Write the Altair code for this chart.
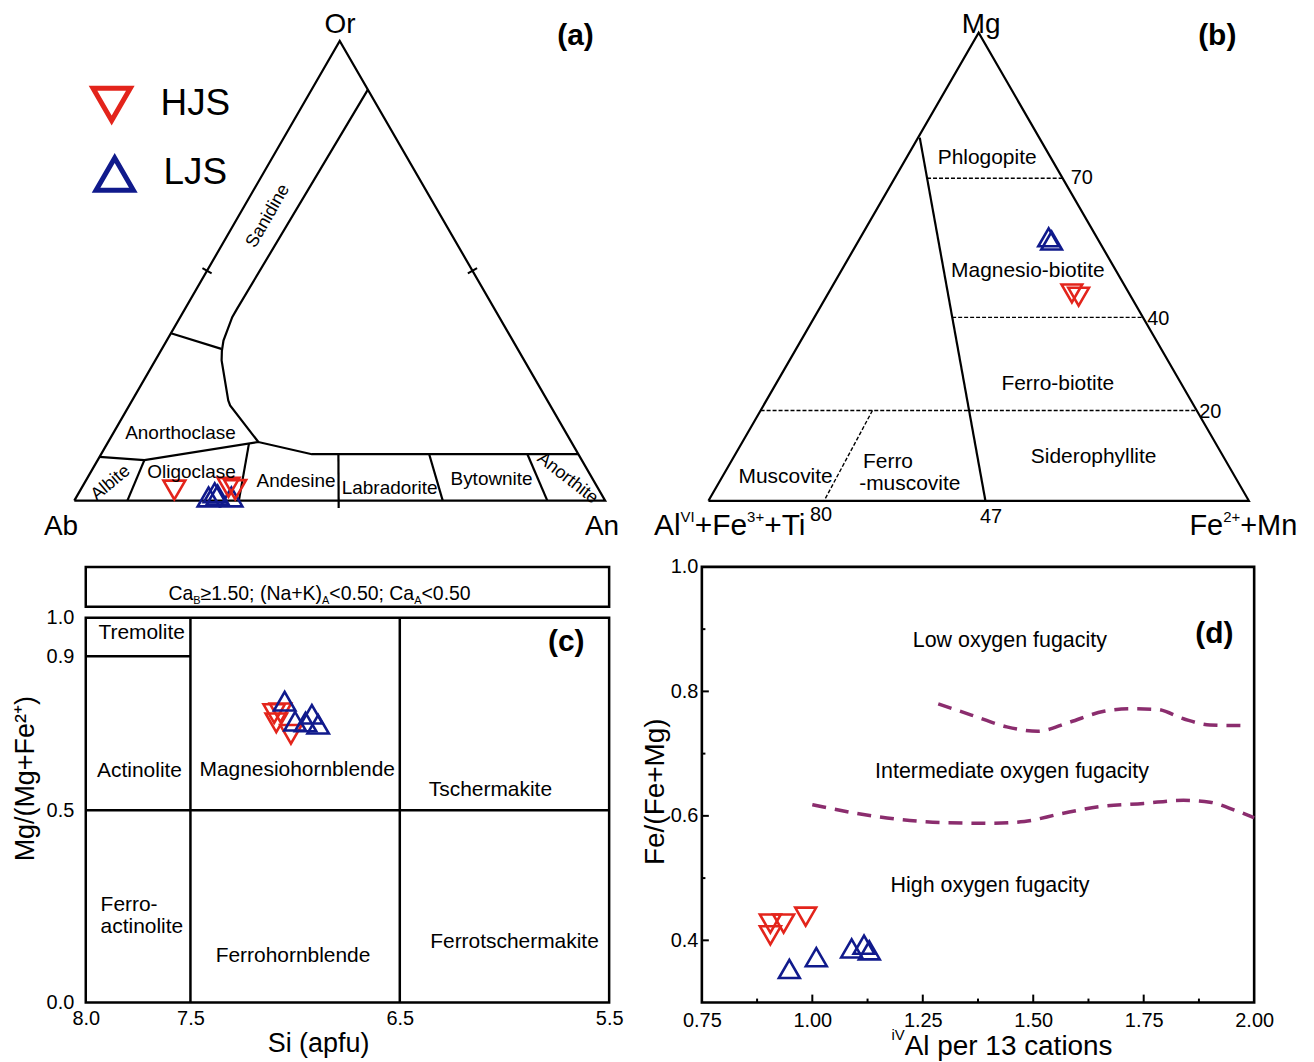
import altair as alt
import numpy as np
import pandas as pd

FONT = "Liberation Sans"
RED = "#E3241B"
BLUE = "#101A8C"
PURPLE = "#8B2D6E"
K = np.sqrt(3) / 2

# ---------------- data ----------------
series = ["HJS", "LJS"]

# (a) feldspar ternary, compositions (An %, Or %); Ab = remainder
a_hjs_an = [17.7, 27.6, 29.1]
a_hjs_or = [2.3, 2.9, 2.4]
a_ljs_an = [24.9, 25.6, 26.4, 29.2]
a_ljs_or = [0.8, 1.7, 1.2, 0.8]
a_outline = [(0, 0), (100, 0), (0, 100), (0, 0)]
a_fields = [
    [(10.6, 89.4), (9.8, 41.7), (9.8, 39.9), (10.3, 37.0), (10.7, 34.8), (11.5, 32.6),
     (12.5, 30.5), (18.1, 21.8), (19.0, 20.7), (28.3, 12.75)],
    [(0, 36.4), (11.2, 33.0)],
    [(0, 9.5), (8.8, 8.8), (28.3, 12.75), (39.7, 10.1), (89.9, 10.1)],
    [(8.8, 8.8), (10.0, 0)],
    [(26.7, 12.4), (31.0, 0)],
    [(44.7, 10.1), (50.6, -1.6)],
    [(61.8, 10.1), (69.4, 0)],
    [(80.3, 10.1), (89.1, 0)],
]
a_ticks = [(0, 50), (50, 50)]

# (b) biotite ternary, compositions (Fe2+ + Mn %, Mg %)
b_hjs_fe = [45.1, 46.7]
b_hjs_mg = [44.3, 43.6]
b_ljs_fe = [34.8, 35.7]
b_ljs_mg = [56.3, 55.6]
b_outline = [(0, 0), (100, 0), (0, 100), (0, 0)]
b_solid = [[(0.3, 77.6), (51.25, 0)]]
b_dashed = [[(6.0, 68.9), (31.1, 68.9)], [(25.5, 39.2), (60.8, 39.2)],
            [(0, 19.3), (80.7, 19.3)], [(20.7, 19.3), (21.4, 0)]]

# (c) amphibole classification
c_hjs_si = [7.10, 7.07, 7.09, 7.02]
c_hjs_mg = [0.751, 0.753, 0.727, 0.697]
c_ljs_si = [7.05, 7.00, 6.95, 6.92, 6.89]
c_ljs_mg = [0.783, 0.731, 0.729, 0.749, 0.723]
c_x_ticks = [8.0, 7.5, 6.5, 5.5]
c_y_ticks = [0.0, 0.5, 0.9, 1.0]
c_bounds = [  # x, x2, y, y2
    (7.5, 7.5, 0.0, 1.0), (6.5, 6.5, 0.0, 1.0), (8.0, 5.5, 0.5, 0.5), (8.0, 7.5, 0.9, 0.9)]

# (d) oxygen fugacity
d_hjs_al = [0.905, 0.935, 0.985, 0.905]
d_hjs_fe = [0.427, 0.427, 0.438, 0.408]
d_ljs_al = [0.948, 1.009, 1.089, 1.117, 1.129]
d_ljs_fe = [0.354, 0.373, 0.387, 0.393, 0.384]
d_upper_al = [1.285, 1.36, 1.44, 1.51, 1.58, 1.66, 1.72, 1.78, 1.84, 1.90, 1.98]
d_upper_fe = [0.780, 0.762, 0.743, 0.736, 0.750, 0.768, 0.772, 0.771, 0.756, 0.746, 0.745]
d_lower_al = [1.0, 1.1, 1.2, 1.3, 1.4, 1.48, 1.56, 1.65, 1.75, 1.84, 1.9, 1.96, 2.0]
d_lower_fe = [0.618, 0.604, 0.594, 0.589, 0.588, 0.591, 0.603, 0.615, 0.620, 0.625, 0.622, 0.608, 0.597]
d_x_ticks = [0.75, 1.0, 1.25, 1.5, 1.75, 2.0]
d_x_minor = [0.875, 1.125, 1.375, 1.625, 1.875]
d_y_ticks = [0.4, 0.6, 0.8, 1.0]
d_y_minor = [0.5, 0.7, 0.9]

# ---------------- helpers ----------------
ARIAL = {"A": .667, "B": .667, "C": .722, "F": .611, "I": .278, "K": .667, "M": .833,
         "N": .722, "T": .611, "V": .667, "a": .556, "e": .556, "i": .222, "l": .222,
         "n": .556, ".": .278, ";": .278, " ": .278, "(": .333, ")": .333, "+": .584,
         "<": .584, "\u2265": .549, "p": .556, "r": .333, "c": .5, "s": .5, "t": .278,
         "o": .556}


def tw(s, size):
    return sum(ARIAL.get(ch, .556) for ch in s) * size


def tern_paths(paths):
    rows = []
    for i, path in enumerate(paths):
        for j, (p, q) in enumerate(path):
            rows.append({"id": i, "o": j, "X": p + q / 2, "Y": q * K})
    return pd.DataFrame(rows)


def tern_pts(p, q, name):
    p, q = np.array(p), np.array(q)
    return pd.DataFrame({"X": p + q / 2, "Y": q * K, "s": name})


def tri(df, enc, shape, color, size, sw=2.6):
    return alt.Chart(df).mark_point(shape=shape, filled=False, size=size, strokeWidth=sw,
                                    color=color, opacity=1).encode(**enc)


def texts(rows, enc, fx, fy, **kw):
    df = pd.DataFrame(rows, columns=["t", fx, fy])
    return alt.Chart(df).mark_text(font=FONT, color="black", **kw).encode(**enc, text="t:N")


def segs(parts, x0, y0, enc, fx, fy):
    layers, off = [], 0.0
    for s, size, dy in parts:
        df = pd.DataFrame({"t": [s], fx: [x0], fy: [y0]})
        layers.append(alt.Chart(df).mark_text(font=FONT, color="black", fontSize=size,
                                              align="left", baseline="alphabetic",
                                              dx=off, dy=dy).encode(**enc, text="t:N"))
        off += tw(s, size)
    return layers


# ---------------- panel (a) ----------------
SAX = alt.Scale(domain=[2.16, 107.32], nice=False, zero=False)
SAY = alt.Scale(domain=[-11.17, 86.48], nice=False, zero=False)
ea = dict(x=alt.X("X:Q", scale=SAX, axis=None), y=alt.Y("Y:Q", scale=SAY, axis=None))

tick_rows = []
for i, ((p, q), ny) in enumerate(zip(a_ticks, [-0.5, 0.5])):
    X0, Y0 = p + q / 2, q * K
    tick_rows += [{"id": i, "o": 0, "X": X0 - K, "Y": Y0 - ny},
                  {"id": i, "o": 1, "X": X0 + K, "Y": Y0 + ny}]
a_tick_df = pd.DataFrame(tick_rows)

a_layers = [
    alt.Chart(tern_paths([a_outline])).mark_line(color="black", strokeWidth=2.2).encode(**ea, order="o:Q", detail="id:N"),
    alt.Chart(tern_paths(a_fields)).mark_line(color="black", strokeWidth=2.2).encode(**ea, order="o:Q", detail="id:N"),
    alt.Chart(a_tick_df).mark_line(color="black", strokeWidth=2).encode(**ea, order="o:Q", detail="id:N"),
    tri(tern_pts(a_ljs_an, a_ljs_or, series[1]), ea, "triangle-up", BLUE, 480),
    tri(tern_pts(a_hjs_an, a_hjs_or, series[0]), ea, "triangle-down", RED, 480),
    # legend
    tri(pd.DataFrame({"X": [7.04], "Y": [74.65]}), ea, "triangle-down", RED, 1400, 5),
    tri(pd.DataFrame({"X": [7.61], "Y": [61.5]}), ea, "triangle-up", BLUE, 1400, 5),
    texts([(series[0], 16.24, 74.65), (series[1], 16.8, 61.69)], ea, "X", "Y", fontSize=37, align="left"),
    texts([("Or", 50.05, 89.6), ("Ab", -2.5, -5.0), ("An", 99.4, -5.0)], ea, "X", "Y", fontSize=28),
    texts([("(a)", 94.4, 87.5)], ea, "X", "Y", fontSize=30, fontWeight="bold"),
    texts([("Anorthoclase", 20.0, 12.7), ("Oligoclase", 22.07, 5.35), ("Andesine", 41.78, 3.66),
           ("Labradorite", 59.4, 2.35), ("Bytownite", 78.6, 4.04)], ea, "X", "Y", fontSize=19),
    texts([("Sanidine", 36.5, 53.6)], ea, "X", "Y", fontSize=18, angle=300),
    texts([("Albite", 6.85, 3.3)], ea, "X", "Y", fontSize=18, angle=320),
    texts([("Anorthite", 92.9, 4.2)], ea, "X", "Y", fontSize=18, angle=38),
]
pa = alt.layer(*a_layers).properties(width=560, height=520)

# ---------------- panel (b) ----------------
SBX = alt.Scale(domain=[-1.22, 110.02], nice=False, zero=False)
SBY = alt.Scale(domain=[-10.94, 84.98], nice=False, zero=False)
eb = dict(x=alt.X("X:Q", scale=SBX, axis=None), y=alt.Y("Y:Q", scale=SBY, axis=None))

b_layers = [
    alt.Chart(tern_paths([b_outline])).mark_line(color="black", strokeWidth=2.2).encode(**eb, order="o:Q", detail="id:N"),
    alt.Chart(tern_paths(b_solid)).mark_line(color="black", strokeWidth=2.2).encode(**eb, order="o:Q", detail="id:N"),
    alt.Chart(tern_paths(b_dashed)).mark_line(color="black", strokeWidth=1.4, strokeDash=[4, 2]).encode(**eb, order="o:Q", detail="id:N"),
    tri(tern_pts(b_ljs_fe, b_ljs_mg, series[1]), eb, "triangle-up", BLUE, 430),
    tri(tern_pts(b_hjs_fe, b_hjs_mg, series[0]), eb, "triangle-down", RED, 430),
    texts([("Mg", 50.48, 86.65)], eb, "X", "Y", fontSize=28, baseline="alphabetic"),
    texts([("(b)", 94.15, 86.0)], eb, "X", "Y", fontSize=30, fontWeight="bold"),
    texts([("Phlogopite", 51.57, 63.4), ("Magnesio-biotite", 59.1, 42.56), ("Ferro-biotite", 64.64, 21.53),
           ("Siderophyllite", 71.28, 8.12), ("Muscovite", 14.28, 4.43)], eb, "X", "Y", fontSize=21),
    texts([("Ferro", 28.6, 7.25), ("-muscovite", 27.9, 3.08)], eb, "X", "Y", fontSize=21, align="left"),
    texts([("70", 67.03, 59.7), ("40", 81.2, 33.7), ("20", 90.8, 16.42)], eb, "X", "Y", fontSize=20, align="left"),
    texts([("80", 20.83, -2.64), ("47", 52.29, -2.95)], eb, "X", "Y", fontSize=20),
]
b_layers += segs([("Al", 30, 0), ("VI", 15, -13), ("+Fe", 30, 0), ("3+", 15, -13), ("+Ti", 30, 0)],
                 -10.07, -6.33, eb, "X", "Y")
b_layers += segs([("Fe", 29, 0), ("2+", 15, -13), ("+Mn", 29, 0)], 89.0, -6.33, eb, "X", "Y")
pb = alt.layer(*b_layers).properties(width=603, height=520)

# ---------------- panel (c) ----------------
SCX = alt.Scale(domain=[5.5, 8.0], reverse=True, nice=False, zero=False)
SCY = alt.Scale(domain=[0, 1.132], nice=False, zero=False)
axc_x = alt.Axis(values=c_x_ticks, format=".1f", ticks=False, domain=False, grid=False,
                 labelFontSize=20, labelFont=FONT, labelColor="black", labelPadding=6,
                 labelOverlap=False, labelFlush=False, title="Si (apfu)", titleFont=FONT,
                 titleFontSize=27, titleFontWeight="normal", titleColor="black",
                 titleX=233, titleY=41, titleAlign="center", titleBaseline="middle")
axc_y = alt.Axis(values=c_y_ticks, format=".1f", ticks=False, domain=False, grid=False,
                 labelFontSize=20, labelFont=FONT, labelColor="black", labelPadding=12,
                 labelOverlap=False, labelFlush=False, title="Mg/(Mg+Fe\u00b2\u207a)", titleFont=FONT,
                 titleFontSize=27, titleFontWeight="normal", titleColor="black", titleAngle=270,
                 titleX=-60, titleY=212, titleAlign="center", titleBaseline="middle")
ec = dict(x=alt.X("x:Q", scale=SCX, axis=axc_x), y=alt.Y("y:Q", scale=SCY, axis=axc_y))
ec2 = dict(x2="x2:Q", y2="y2:Q")

c_frame = pd.DataFrame({"x": [8.0, 8.0], "x2": [5.5, 5.5], "y": [0.0, 1.0285], "y2": [1.0, 1.132]})
c_bound_df = pd.DataFrame(c_bounds, columns=["x", "x2", "y", "y2"])
c_layers = [
    alt.Chart(c_frame).mark_rect(filled=False, color="black", strokeWidth=2.5).encode(**ec, **ec2),
    alt.Chart(c_bound_df).mark_rule(color="black", strokeWidth=2.5).encode(**ec, **ec2),
    tri(pd.DataFrame({"x": c_hjs_si, "y": c_hjs_mg}), ec, "triangle-down", RED, 460),
    tri(pd.DataFrame({"x": c_ljs_si, "y": c_ljs_mg}), ec, "triangle-up", BLUE, 460),
    texts([("Tremolite", 7.733, 0.961), ("Actinolite", 7.743, 0.601), ("Magnesiohornblende", 6.99, 0.604),
           ("Tschermakite", 6.067, 0.552), ("Ferrohornblende", 7.01, 0.122),
           ("Ferrotschermakite", 5.952, 0.158)], ec, "x", "y", fontSize=21),
    texts([("Ferro-", 7.929, 0.254), ("actinolite", 7.929, 0.197)], ec, "x", "y", fontSize=21, align="left"),
    texts([("(c)", 5.705, 0.938)], ec, "x", "y", fontSize=30, fontWeight="bold"),
]
c_layers += segs([("Ca", 19.5, 0), ("B", 11, 4), ("\u22651.50; (Na+K)", 19.5, 0), ("A", 11, 4),
                  ("<0.50; Ca", 19.5, 0), ("A", 11, 4), ("<0.50", 19.5, 0)], 7.605, 1.047, ec, "x", "y")
pc = alt.layer(*c_layers).properties(width=525, height=437)

# ---------------- panel (d) ----------------
SDX = alt.Scale(domain=[0.75, 2.0], nice=False, zero=False)
SDY = alt.Scale(domain=[0.3, 1.0], nice=False, zero=False)
axd_x = alt.Axis(values=d_x_ticks, format=".2f", ticks=False, domain=False, grid=False,
                 labelFontSize=20, labelFont=FONT, labelColor="black", labelPadding=8,
                 labelOverlap=False, labelFlush=False)
axd_y = alt.Axis(values=d_y_ticks, format=".1f", ticks=False, domain=False, grid=False,
                 labelFontSize=20, labelFont=FONT, labelColor="black", labelPadding=4,
                 labelOverlap=False, labelFlush=False, title="Fe/(Fe+Mg)", titleFont=FONT,
                 titleFontSize=28, titleFontWeight="normal", titleColor="black", titleAngle=270,
                 titleX=-46, titleY=225, titleAlign="center", titleBaseline="middle")
ed = dict(x=alt.X("x:Q", scale=SDX, axis=axd_x, title=None), y=alt.Y("y:Q", scale=SDY, axis=axd_y))

d_frame = pd.DataFrame({"x": [0.75], "x2": [2.0], "y": [0.3], "y2": [1.0]})
xt = pd.DataFrame({"x": d_x_ticks[1:-1] + d_x_minor,
                   "x2": d_x_ticks[1:-1] + d_x_minor,
                   "y": [0.3] * 9,
                   "y2": [0.3128] * 4 + [0.3064] * 5})
yt = pd.DataFrame({"x": [0.75] * 6, "x2": [0.7658] * 3 + [0.758] * 3,
                   "y": d_y_ticks[:-1] + d_y_minor, "y2": d_y_ticks[:-1] + d_y_minor})
curves = pd.concat([
    pd.DataFrame({"x": d_upper_al, "y": d_upper_fe, "c": "upper"}),
    pd.DataFrame({"x": d_lower_al, "y": d_lower_fe, "c": "lower"})])

d_layers = [
    alt.Chart(d_frame).mark_rect(filled=False, color="black", strokeWidth=2.6).encode(**ed, **ec2),
    alt.Chart(xt).mark_rule(color="black", strokeWidth=2).encode(**ed, **ec2),
    alt.Chart(yt).mark_rule(color="black", strokeWidth=2).encode(**ed, **ec2),
    alt.Chart(curves).mark_line(color=PURPLE, strokeWidth=3.5, strokeDash=[14, 9],
                                interpolate="monotone").encode(**ed, detail="c:N"),
    tri(pd.DataFrame({"x": d_hjs_al, "y": d_hjs_fe}), ed, "triangle-down", RED, 440),
    tri(pd.DataFrame({"x": d_ljs_al, "y": d_ljs_fe}), ed, "triangle-up", BLUE, 440),
    texts([("Low oxygen fugacity", 1.447, 0.881), ("Intermediate oxygen fugacity", 1.452, 0.670),
           ("High oxygen fugacity", 1.402, 0.487)], ed, "x", "y", fontSize=21.5),
    texts([("(d)", 1.910, 0.892)], ed, "x", "y", fontSize=30, fontWeight="bold"),
]
d_layers += segs([("iV", 15, -15), ("Al per 13 cations", 28, 0)], 1.179, 0.2152, ed, "x", "y")
pd_ = alt.layer(*d_layers).properties(width=554, height=437)

# ---------------- compose ----------------
chart = alt.concat(pa, pb, pc, pd_, columns=2, spacing={"row": 7, "column": 58},
                   bounds="flush", align="each").properties(
    padding={"left": 3, "top": 0, "right": 2, "bottom": 2}, background="white"
).configure(font=FONT).configure_view(stroke="transparent")

chart.save("out.html", embed_options={"renderer": "svg", "actions": False})
